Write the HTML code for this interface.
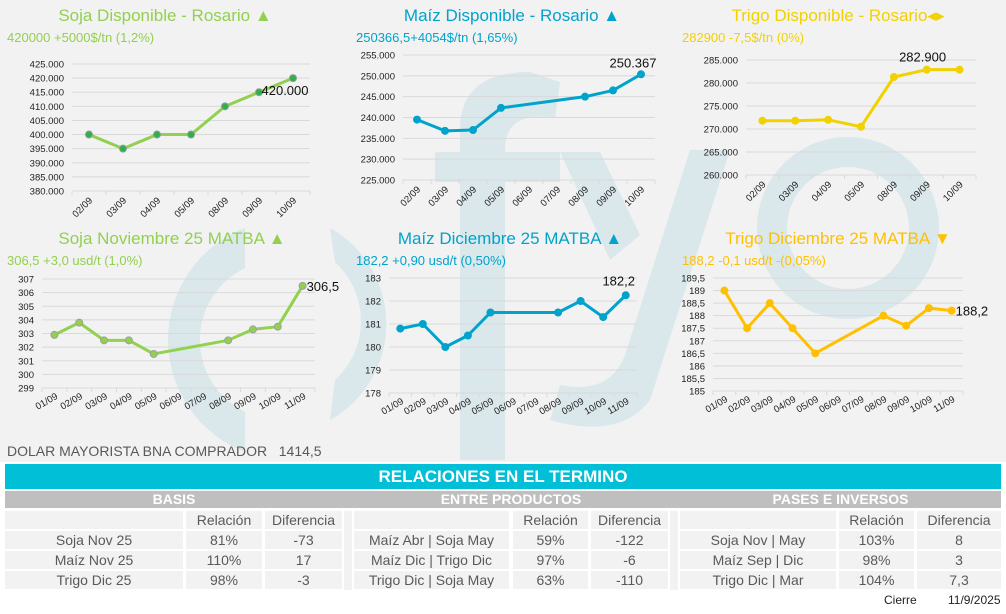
<!DOCTYPE html>
<html><head><meta charset="utf-8">
<style>
body{margin:0;width:1006px;height:614px;overflow:hidden;background:#fff;font-family:"Liberation Sans",sans-serif}
#wrap{position:relative;width:1006px;height:614px}
svg{position:absolute;left:0;top:0}
.t{position:absolute;white-space:nowrap}
.cell{position:absolute;background:#f2f2f2;color:#595959;font-size:14px;text-align:center;line-height:18px;height:18px}
</style></head><body>
<div id="wrap">
<svg id="chartsvg" width="1006" height="614"></svg>
<div class="t" style="left:7px;top:443px;font-size:14px;color:#595959">DOLAR MAYORISTA BNA COMPRADOR &nbsp; 1414,5</div>
<div class="t" style="left:5px;top:464px;width:996px;height:25px;background:#00bfd6;color:#fff;font-weight:bold;font-size:17px;line-height:25px;text-align:center">RELACIONES EN EL TERMINO</div>
<div class="t" style="left:5px;top:491px;width:996px;height:17px;background:#bfbfbf"></div>
<div class="t" style="left:5px;top:491px;width:338px;color:#fff;font-weight:bold;font-size:14px;line-height:17px;text-align:center">BASIS</div>
<div class="t" style="left:352px;top:491px;width:318px;color:#fff;font-weight:bold;font-size:14px;line-height:17px;text-align:center">ENTRE PRODUCTOS</div>
<div class="t" style="left:680px;top:491px;width:321px;color:#fff;font-weight:bold;font-size:14px;line-height:17px;text-align:center">PASES E INVERSOS</div>
<div class="t" style="left:344px;top:511px;width:8px;height:79px;background:#f2f2f2"></div>
<div class="t" style="left:670px;top:511px;width:8px;height:79px;background:#f2f2f2"></div>
<div id="tbl"></div>
<div class="t" style="left:884px;top:593px;font-size:12px;color:#222">Cierre</div>
<div class="t" style="left:948px;top:593px;font-size:12px;color:#222">11/9/2025</div>
</div>
<script>
// ---- chart data ----
const sojaDispCats=["02/09","03/09","04/09","05/09","08/09","09/09","10/09"];
const sojaDispVals=[400000,395000,400000,400000,410000,415000,420000];
const sojaDispTicks=[380000,385000,390000,395000,400000,405000,410000,415000,420000,425000];
const maizDispCats=["02/09","03/09","04/09","05/09","06/09","07/09","08/09","09/09","10/09"];
const maizDispVals=[239500,236800,237000,242300,null,null,245000,246500,250367];
const maizDispTicks=[225000,230000,235000,240000,245000,250000,255000];
const trigoDispCats=["02/09","03/09","04/09","05/09","08/09","09/09","10/09"];
const trigoDispVals=[271800,271800,272000,270500,281300,282900,282900];
const trigoDispTicks=[260000,265000,270000,275000,280000,285000];
const matbaCats=["01/09","02/09","03/09","04/09","05/09","06/09","07/09","08/09","09/09","10/09","11/09"];
const sojaNovVals=[302.9,303.8,302.5,302.5,301.5,null,null,302.5,303.3,303.5,306.5];
const sojaNovTicks=[299,300,301,302,303,304,305,306,307];
const maizDicVals=[180.8,181.0,180.0,180.5,181.5,null,null,181.5,182.0,181.3,182.25];
const maizDicTicks=[178,179,180,181,182,183];
const trigoDicVals=[189,187.5,188.5,187.5,186.5,null,null,188,187.6,188.3,188.2];
const trigoDicTicks=[185,185.5,186,186.5,187,187.5,188,188.5,189,189.5];

const NS="http://www.w3.org/2000/svg";
const svg=document.getElementById('chartsvg');
function mk(tag,attrs,parent){const e=document.createElementNS(NS,tag);for(const k in attrs)e.setAttribute(k,attrs[k]);(parent||svg).appendChild(e);return e;}
function fmtThousand(v){return (v/1000).toFixed(0)+".000";}
function fmtComma(v){return String(v).replace('.',',');}

// background + watermark
const bg=mk('rect',{x:0,y:0,width:1006,height:462,fill:'#f2f2f2'});


const wm=mk('g',{fill:'#dae7eb'});


mk('path',{d:'M245 228 A120 120 0 0 0 245 452 L245 412 A80 80 0 0 1 245 268 Z'},wm);
mk('path',{d:'M330 228 A110 110 0 0 1 330 420 L335 380 A80 80 0 0 0 335 262 Z'},wm);
mk('path',{d:'M460 460 L460 130 Q460 72 530 72 L560 82 L555 118 Q505 110 505 150 L505 460 Z'},wm);
mk('rect',{x:435,y:152,width:125,height:30},wm);
mk('path',{d:'M560 152 L600 152 L640 235 L610 260 Z'},wm);
mk('path',{d:'M690 150 L730 150 L650 400 Q620 440 550 420 L560 385 Q610 395 625 355 Z'},wm);
mk('circle',{cx:848,cy:228,r:76,fill:'none',stroke:'#dae7eb','stroke-width':30},wm);

function drawChart(o){
  const g=mk('g',{});
  
  
  const n=o.cats.length, band=(o.x1-o.x0)/n;
  const tmin=o.ticks[0], tmax=o.ticks[o.ticks.length-1];
  const yS=v=>o.yb-(v-tmin)/(tmax-tmin)*(o.yb-o.yt);
  const xS=i=>o.x0+band*(i+0.5);
  o.ticks.forEach(t=>{
    const gl=mk('line',{x1:o.x0,x2:o.x1,y1:yS(t),y2:yS(t),stroke:'#d9d9d9','stroke-width':1},g);
    
    
    const tl=mk('text',{x:o.x0-8,y:yS(t)+3.5,'text-anchor':'end','font-size':9.5,fill:'#222'},g);
    tl.textContent=o.fmt(t);
    
    
  });
  for(let i=0;i<=n;i++){mk('line',{x1:o.x0+band*i,x2:o.x0+band*i,y1:o.yb,y2:o.yb+4,stroke:'#d9d9d9'},g);}
  o.cats.forEach((c,i)=>{
    const xl=mk('text',{x:xS(i)+4,y:o.yb+10,'text-anchor':'end','font-size':9.5,fill:'#222',transform:`rotate(${o.rot} ${xS(i)+4} ${o.yb+10})`},g);
    xl.textContent=c;
    
    
  });
  const pts=[];o.vals.forEach((v,i)=>{if(v!==null)pts.push([xS(i),yS(v)]);});
  const ln=mk('polyline',{points:pts.map(p=>p.join(',')).join(' '),fill:'none',stroke:o.color,'stroke-width':3,'stroke-linejoin':'round'},g);
  
  
  pts.forEach(p=>{
    const c=mk('circle',{cx:p[0],cy:p[1],r:3.5,fill:o.mfill||o.color,stroke:o.mstroke||o.color,'stroke-width':1},g);
    
    
  });
  const last=pts[pts.length-1];
  const lbl=mk('text',{x:last[0]+o.ldx,y:last[1]+o.ldy,'text-anchor':o.lanchor||'middle','font-size':13,fill:'#111'},g);
  lbl.textContent=o.lastLabel;
  
  
  const tt=mk('text',{x:o.tx,y:o.ty,'text-anchor':'middle','font-size':17,fill:o.color},g);
  tt.textContent=o.title;
  
  
  const st=mk('text',{x:o.sx,y:o.ty+21,'font-size':13,fill:o.color},g);
  st.textContent=o.sub;
  
  
}
drawChart({name:'soja-disponible-chart',cats:sojaDispCats,vals:sojaDispVals,ticks:sojaDispTicks,x0:72,x1:310,yt:64,yb:191,color:'#92d050',mfill:'#2eb14a',mstroke:'#9a9a9a',fmt:fmtThousand,rot:-45,title:'Soja Disponible - Rosario ▲',sub:'420000 +5000$/tn (1,2%)',tx:165,ty:21,sx:7,lastLabel:'420.000',ldx:-8,ldy:17});
drawChart({name:'maiz-disponible-chart',cats:maizDispCats,vals:maizDispVals,ticks:maizDispTicks,x0:403,x1:655,yt:55,yb:180,color:'#00a3cc',fmt:fmtThousand,rot:-45,title:'Maíz Disponible - Rosario ▲',sub:'250366,5+4054$/tn (1,65%)',tx:512,ty:21,sx:356,lastLabel:'250.367',ldx:-8,ldy:-7});
drawChart({name:'trigo-disponible-chart',cats:trigoDispCats,vals:trigoDispVals,ticks:trigoDispTicks,x0:746,x1:976,yt:60,yb:175,color:'#f2d100',fmt:fmtThousand,rot:-45,title:'Trigo Disponible - Rosario◂▸',sub:'282900 -7,5$/tn (0%)',tx:838,ty:21,sx:682,lastLabel:'282.900',ldx:-37,ldy:-8});
drawChart({name:'soja-nov-matba-chart',cats:matbaCats,vals:sojaNovVals,ticks:sojaNovTicks,x0:42,x1:315,yt:279,yb:388,color:'#92d050',mfill:'#92d050',mstroke:'#a0a0a0',fmt:fmtComma,rot:-30,title:'Soja Noviembre 25 MATBA ▲',sub:'306,5 +3,0 usd/t (1,0%)',tx:172,ty:244,sx:7,lastLabel:'306,5',ldx:4,ldy:5,lanchor:'start'});
drawChart({name:'maiz-dic-matba-chart',cats:matbaCats,vals:maizDicVals,ticks:maizDicTicks,x0:389,x1:637,yt:278,yb:393,color:'#00a3cc',fmt:fmtComma,rot:-30,title:'Maíz Diciembre 25 MATBA ▲',sub:'182,2 +0,90 usd/t (0,50%)',tx:510,ty:244,sx:356,lastLabel:'182,2',ldx:-7,ldy:-10});
drawChart({name:'trigo-dic-matba-chart',cats:matbaCats,vals:trigoDicVals,ticks:trigoDicTicks,x0:713,x1:963,yt:278,yb:391,color:'#ffc000',fmt:fmtComma,rot:-30,title:'Trigo Diciembre 25 MATBA ▼',sub:'188,2 -0,1 usd/t -(0,05%)',tx:838,ty:244,sx:682,lastLabel:'188,2',ldx:4,ldy:5,lanchor:'start'});

// ---- table ----
const tbl=document.getElementById('tbl');
const colSets=[[[5,178],[186,76],[265,77]],[[354,155],[513,75],[591,77]],[[680,156],[839,75],[917,84]]];
const sections=[
 [["","Relación","Diferencia"],["Soja Nov 25","81%","-73"],["Maíz Nov 25","110%","17"],["Trigo Dic 25","98%","-3"]],
 [["","Relación","Diferencia"],["Maíz Abr | Soja May","59%","-122"],["Maíz Dic | Trigo Dic","97%","-6"],["Trigo Dic | Soja May","63%","-110"]],
 [["","Relación","Diferencia"],["Soja Nov | May","103%","8"],["Maíz Sep | Dic","98%","3"],["Trigo Dic | Mar","104%","7,3"]]];
const rowY=[511,531,551,571];
sections.forEach((sec,si)=>{sec.forEach((row,ri)=>{row.forEach((txt,ci)=>{
  const d=document.createElement('div');d.className='cell';
  const c=colSets[si][ci];
  d.style.left=c[0]+'px';d.style.width=c[1]+'px';d.style.top=rowY[ri]+'px';
  d.textContent=txt;
  
  
  tbl.appendChild(d);
});});});
</script>
</body></html>
